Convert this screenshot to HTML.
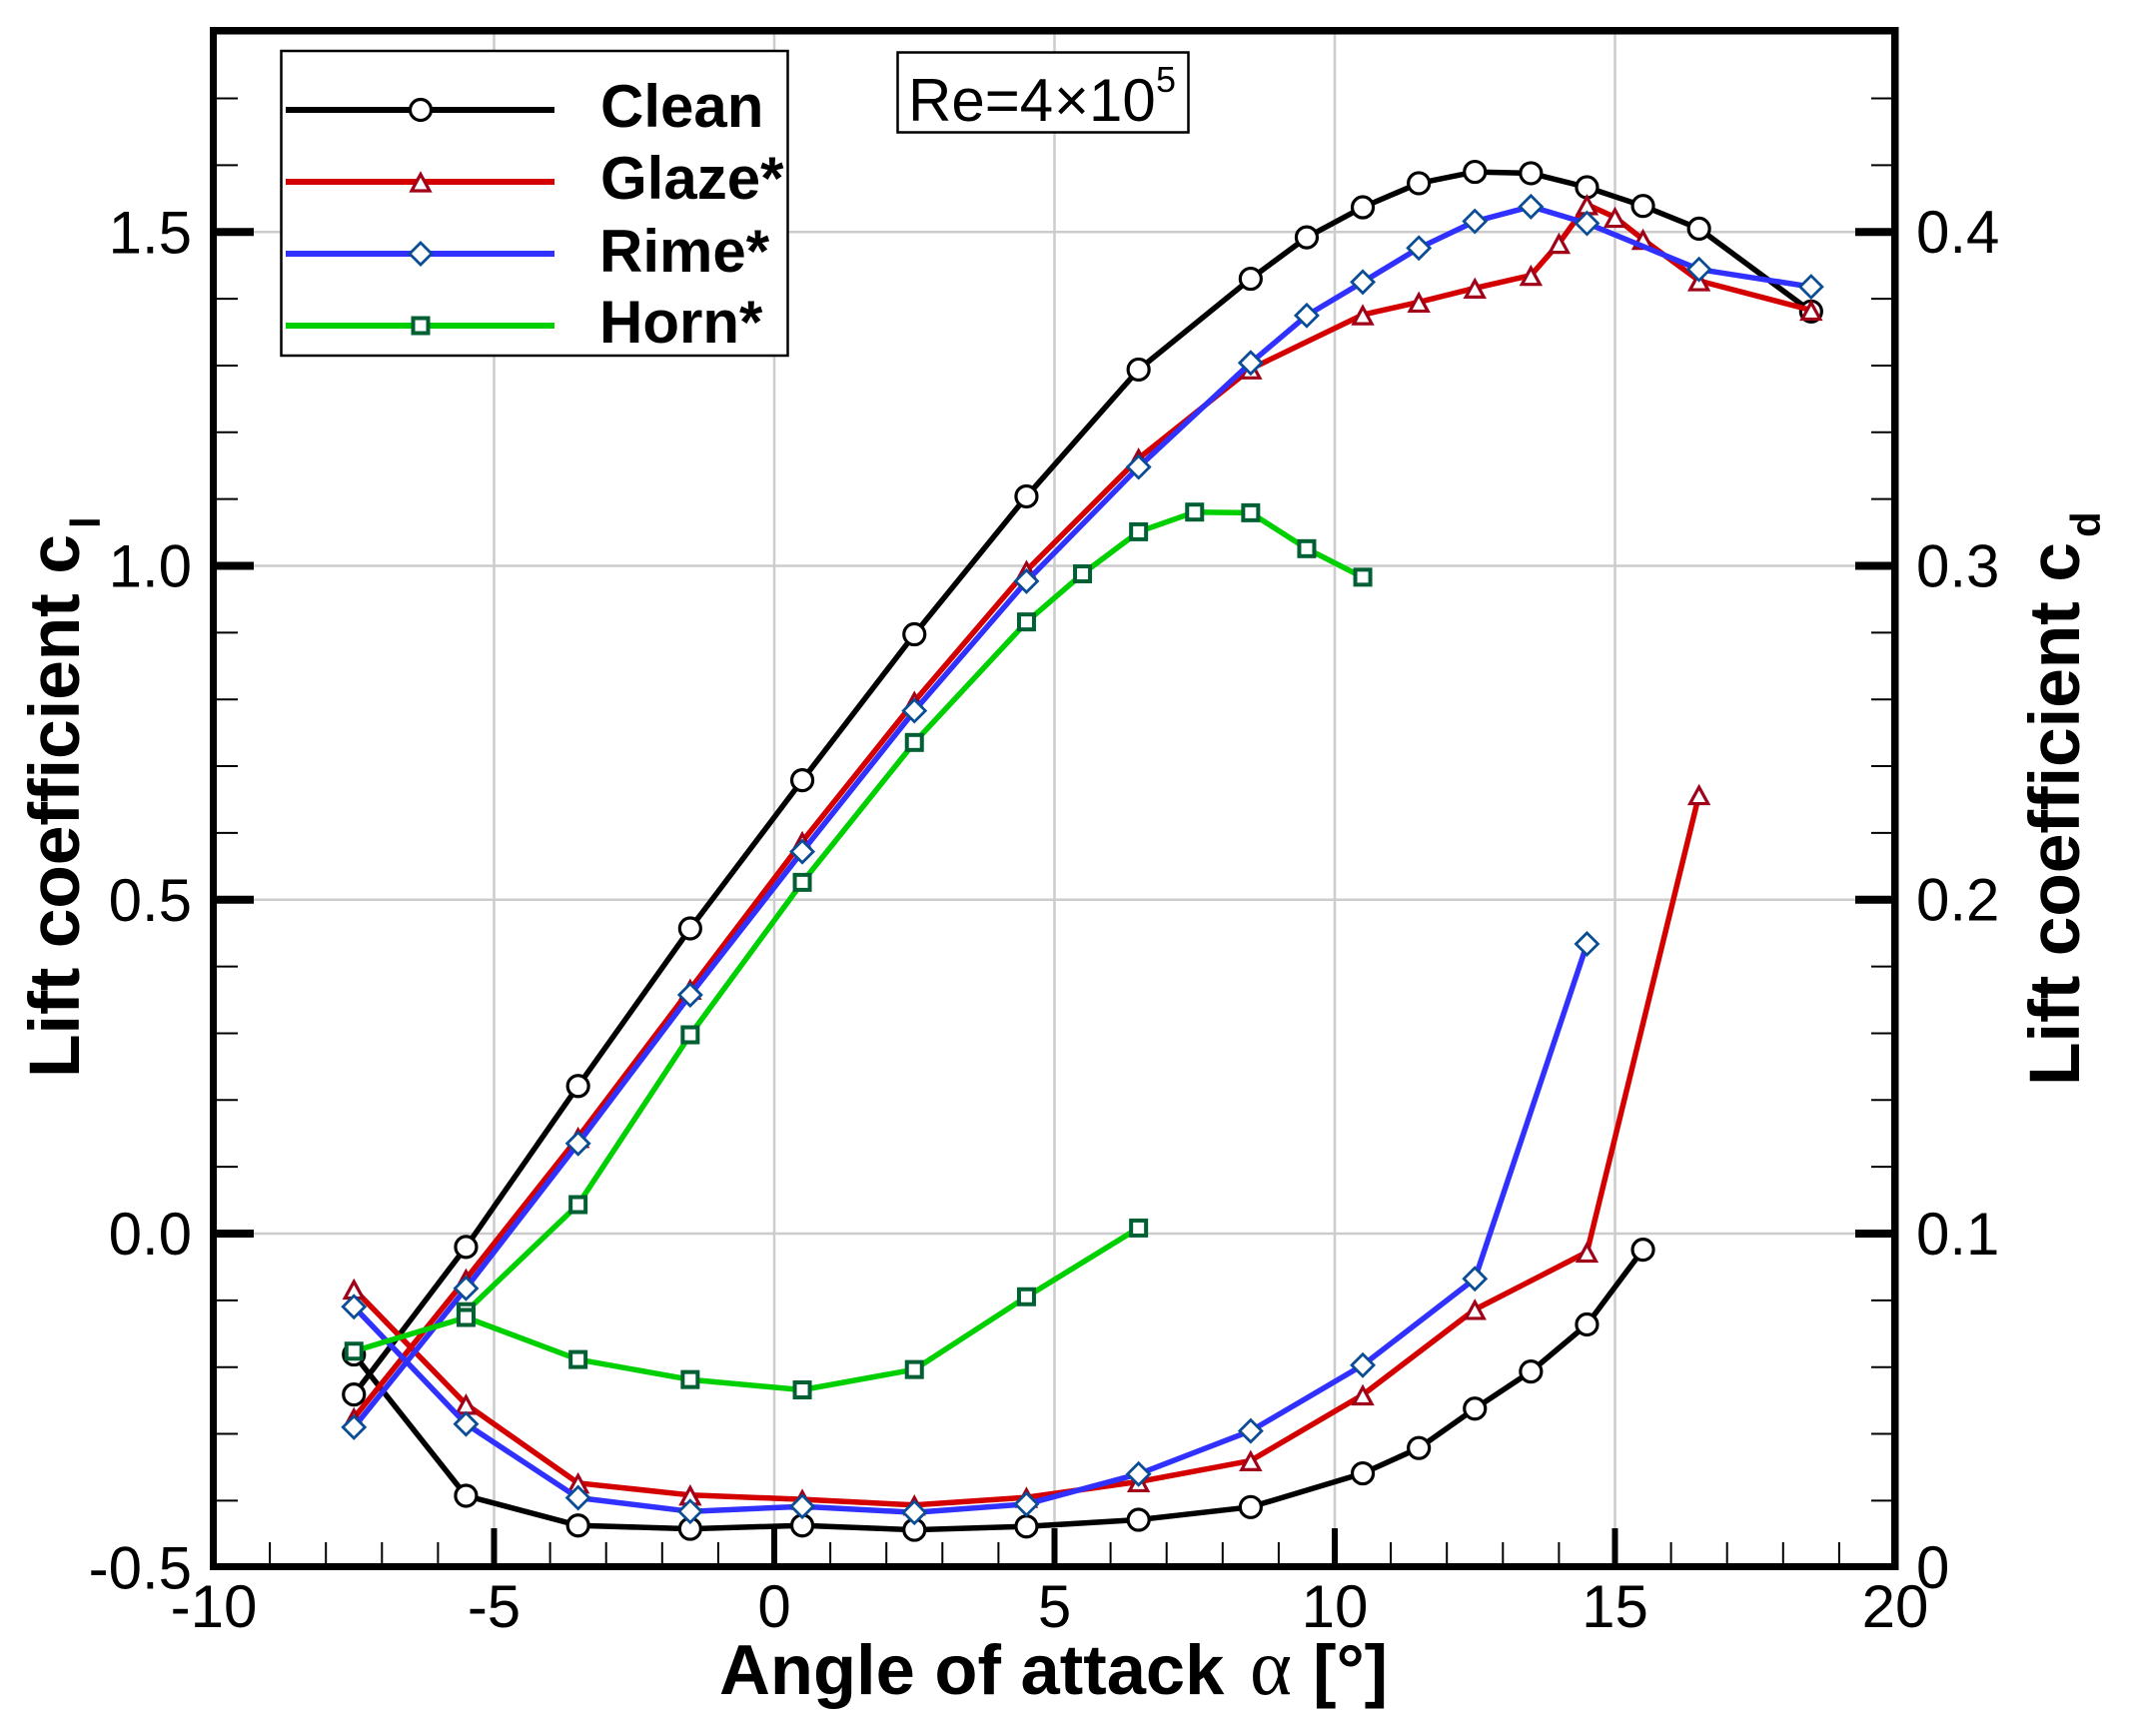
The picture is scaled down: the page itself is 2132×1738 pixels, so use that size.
<!DOCTYPE html>
<html lang="en">
<head>
<meta charset="utf-8">
<title>Lift and drag coefficient vs angle of attack</title>
<style>
  html, body { margin: 0; padding: 0; background: #fff; }
  svg { display: block; }
  text { font-family: "Liberation Sans", sans-serif; fill: #000; }
  .bold { font-weight: bold; }
</style>
</head>
<body>
<svg id="chart" xmlns="http://www.w3.org/2000/svg" width="2132" height="1738" viewBox="0 0 2132 1738">
  <rect x="0" y="0" width="2132" height="1738" fill="#fff"/>
  <g id="grid"></g>
  <g id="ticks"></g>
  <g id="series"></g>
  <g id="frame">
    <rect x="210" y="27" width="7" height="1545" fill="#000"/>
    <rect x="1893" y="27" width="7.5" height="1545" fill="#000"/>
    <rect x="210" y="27" width="1690" height="7.5" fill="#000"/>
    <rect x="210" y="1565" width="1690" height="7" fill="#000"/>
  </g>
  <g id="tick-labels" font-size="60"></g>

  <text class="bold" y="1696" font-size="70.5"><tspan x="720">Angle of attack</tspan><tspan x="1251" style="font-family:'Liberation Serif',serif;font-weight:normal" font-size="80">α</tspan><tspan x="1314">[°]</tspan></text>

  <g transform="translate(79 1079) rotate(-90)">
    <text class="bold" x="0" y="0" font-size="71.5" textLength="544" lengthAdjust="spacing">Lift coefficient c</text>
    <text class="bold" x="550" y="21" font-size="42">l</text>
  </g>
  <g transform="translate(2081 1087) rotate(-90)">
    <text class="bold" x="0" y="0" font-size="71.5" textLength="544" lengthAdjust="spacing">Lift coefficient c</text>
    <text class="bold" x="549" y="21" font-size="42">d</text>
  </g>

  <g>
    <rect x="281.5" y="51" width="507" height="305" fill="#fff" stroke="#000" stroke-width="2.5"/>
    <g>
      <line x1="286" x2="555" y1="110" y2="110" stroke="#000" stroke-width="6"/>
      <circle cx="421" cy="110" r="10.5" fill="#fff" stroke="#000" stroke-width="3.2"/>
      <text class="bold" x="601" y="127" font-size="60">Clean</text>
    </g>
    <g>
      <line x1="286" x2="555" y1="182" y2="182" stroke="#d40000" stroke-width="6"/>
      <path d="M421,174.500 L430,191 L412,191 Z" fill="#fff" stroke="#a00018" stroke-width="3.2"/>
      <text class="bold" x="601" y="199" font-size="60">Glaze*</text>
    </g>
    <g>
      <line x1="286" x2="555" y1="254" y2="254" stroke="#3030ff" stroke-width="6"/>
      <path d="M421,243 L432,254 L421,265 L410,254 Z" fill="#fff" stroke="#0a4d95" stroke-width="2.8"/>
      <text class="bold" x="600" y="272" font-size="60">Rime*</text>
    </g>
    <g>
      <line x1="286" x2="555" y1="326" y2="326" stroke="#00d000" stroke-width="6"/>
      <rect x="413.500" y="318.500" width="15" height="15" fill="#fff" stroke="#005f33" stroke-width="4"/>
      <text class="bold" x="600" y="343" font-size="60">Horn*</text>
    </g>
  </g>

  <g>
    <rect x="898.500" y="52.500" width="291" height="80" fill="#fff" stroke="#000" stroke-width="2.500"/>
    <text y="121" font-size="60"><tspan x="909">Re=4</tspan><tspan x="1055" font-size="60">×</tspan><tspan x="1090">10</tspan></text>
    <text x="1157" y="92" font-size="36">5</text>
  </g>
</svg>

<script>
// ---- chart data ----
const xTickLabels = ['-10', '-5', '0', '5', '10', '15', '20'];
const clTickLabels = ['-0.5', '0.0', '0.5', '1.0', '1.5'];
const cdTickLabels = ['0', '0.1', '0.2', '0.3', '0.4'];

const alphaCleanCl = [-7.5, -5.5, -3.5, -1.5, 0.5, 2.5, 4.5, 6.5, 8.5, 9.5, 10.5, 11.5, 12.5, 13.5, 14.5, 15.5, 16.5, 18.5];
const clClean = [-0.241, -0.020, 0.221, 0.457, 0.679, 0.8975, 1.104, 1.294, 1.430, 1.492, 1.537, 1.573, 1.590, 1.588, 1.567, 1.539, 1.505, 1.381];
const alphaCleanCd = [-7.5, -5.5, -3.5, -1.5, 0.5, 2.5, 4.5, 6.5, 8.5, 10.5, 11.5, 12.5, 13.5, 14.5, 15.5];
const cdClean = [0.0637, 0.0214, 0.0125, 0.0115, 0.0125, 0.0112, 0.0122, 0.0142, 0.0180, 0.0281, 0.0357, 0.0475, 0.0586, 0.0727, 0.0951];

const alphaGlazeCl = [-7.5, -5.5, -3.5, -1.5, 0.5, 2.5, 4.5, 6.5, 8.5, 10.5, 11.5, 12.5, 13.5, 14, 14.5, 15, 15.5, 16.5, 18.5];
const clGlaze = [-0.276, -0.068, 0.144, 0.366, 0.587, 0.797, 0.993, 1.161, 1.295, 1.376, 1.395, 1.416, 1.435, 1.483, 1.541, 1.522, 1.489, 1.427, 1.383];
const alphaGlazeCd = [-7.5, -5.5, -3.5, -1.5, 0.5, 2.5, 4.5, 6.5, 8.5, 10.5, 12.5, 14.5, 16.5];
const cdGlaze = [0.0833, 0.0488, 0.0252, 0.0216, 0.0203, 0.0186, 0.0209, 0.0256, 0.0319, 0.0516, 0.0772, 0.0944, 0.2314];

const alphaRimeCl = [-7.5, -5.5, -3.5, -1.5, 0.5, 2.5, 4.5, 6.5, 8.5, 9.5, 10.5, 11.5, 12.5, 13.5, 14.5, 16.5, 18.5];
const clRime = [-0.290, -0.082, 0.135, 0.3575, 0.572, 0.783, 0.977, 1.148, 1.304, 1.375, 1.425, 1.476, 1.516, 1.538, 1.513, 1.444, 1.418];
const alphaRimeCd = [-7.5, -5.5, -3.5, -1.5, 0.5, 2.5, 4.5, 6.5, 8.5, 10.5, 12.5, 14.5];
const cdRime = [0.0780, 0.0429, 0.0208, 0.0167, 0.0182, 0.0164, 0.0189, 0.0279, 0.0408, 0.0605, 0.0864, 0.1867];

const alphaHornCl = [-5.5, -3.5, -1.5, 0.5, 2.5, 4.5, 5.5, 6.5, 7.5, 8.5, 9.5, 10.5];
const clHorn = [-0.117, 0.0434, 0.2977, 0.526, 0.7355, 0.916, 0.988, 1.051, 1.0805, 1.0795, 1.0257, 0.983];
const alphaHornCd = [-7.5, -5.5, -3.5, -1.5, 0.5, 2.5, 4.5, 6.5];
const cdHorn = [0.0647, 0.0748, 0.0622, 0.0562, 0.0531, 0.0592, 0.0810, 0.1016];

// ---- axis functions ----
const NS = 'http://www.w3.org/2000/svg';
const xScale = a => 775 + (a * 1122 / 20);
const yCl = c => 1235 - c * 668.5;
const yCd = d => 1569 - d * 3342.5;

function make(tag, attrs, parent) {
  const el = document.createElementNS(NS, tag);
  for (const k in attrs) el.setAttribute(k, attrs[k]);
  parent.appendChild(el);
  return el;
}

const gridG = document.getElementById('grid');
const ticksG = document.getElementById('ticks');
const labelsG = document.getElementById('tick-labels');
const seriesG = document.getElementById('series');

// vertical grid + x ticks
for (let a = -9; a <= 19; a++) {
  const major = a % 5 === 0;
  if (major) {
    const g = make('line', { x1: xScale(a), x2: xScale(a), y1: 30, y2: 1568, stroke: '#cccccc', 'stroke-width': 2.5 }, gridG);
    
    
  }
  const t = make('line', { x1: xScale(a), x2: xScale(a), y1: 1566, y2: major ? 1530 : 1544, stroke: '#000', 'stroke-width': major ? 6 : 2 }, ticksG);
  
  
}

// horizontal grid + y ticks (every 0.1 of cl = 0.02 of cd)
for (let i = -4; i <= 17; i++) {
  const c = i / 10;
  const y = yCl(c);
  const major = i % 5 === 0;
  if (major) {
    const g = make('line', { x1: 214, x2: 1896, y1: y, y2: y, stroke: '#cccccc', 'stroke-width': 2.5 }, gridG);
    
    
  }
  const l = make('line', { x1: 216, x2: major ? 254 : 238, y1: y, y2: y, stroke: '#000', 'stroke-width': major ? 8 : 2 }, ticksG);
  
  
  const r = make('line', { x1: 1894, x2: major ? 1857 : 1873, y1: y, y2: y, stroke: '#000', 'stroke-width': major ? 8 : 2 }, ticksG);
  
  
}

// tick labels
xTickLabels.forEach(s => {
  const t = make('text', { x: xScale(parseFloat(s)), y: 1629, 'text-anchor': 'middle' }, labelsG);
  t.textContent = s;
  
  
});
clTickLabels.forEach(s => {
  const t = make('text', { x: 192, y: yCl(parseFloat(s)) + 21, 'text-anchor': 'end' }, labelsG);
  t.textContent = s;
  
  
});
cdTickLabels.forEach(s => {
  const t = make('text', { x: 1918, y: yCd(parseFloat(s)) + 21 }, labelsG);
  t.textContent = s;
  
  
});

// markers
function marker(kind, cx, cy, parent) {
  if (kind === 'circle') {
    return make('circle', { cx: cx, cy: cy, r: 10.5, fill: '#fff', stroke: '#000', 'stroke-width': 3.2 }, parent);
  }
  if (kind === 'triangle') {
    return make('path', { d: `M${cx},${cy - 7.5} L${cx + 9},${cy + 9} L${cx - 9},${cy + 9} Z`, fill: '#fff', stroke: '#a00018', 'stroke-width': 3.2 }, parent);
  }
  if (kind === 'diamond') {
    return make('path', { d: `M${cx},${cy - 11} L${cx + 11},${cy} L${cx},${cy + 11} L${cx - 11},${cy} Z`, fill: '#fff', stroke: '#0a4d95', 'stroke-width': 2.8 }, parent);
  }
  return make('rect', { x: cx - 7.5, y: cy - 7.5, width: 15, height: 15, fill: '#fff', stroke: '#005f33', 'stroke-width': 4 }, parent);
}

function drawCurve(xs, vals, yFn, color, kind) {
  const g = make('g', {}, seriesG);
  const pts = xs.map((a, i) => xScale(a).toFixed(1) + ',' + yFn(vals[i]).toFixed(1)).join(' ');
  const line = make('polyline', { points: pts, fill: 'none', stroke: color, 'stroke-width': 5.5, 'stroke-linejoin': 'round' }, g);
  
  
  xs.forEach((a, i) => {
    const m = marker(kind, xScale(a), yFn(vals[i]), g);
    
    
  });
  return g;
}

const cleanCl = drawCurve(alphaCleanCl, clClean, yCl, '#000', 'circle');


const cleanCd = drawCurve(alphaCleanCd, cdClean, yCd, '#000', 'circle');


const glazeCl = drawCurve(alphaGlazeCl, clGlaze, yCl, '#d40000', 'triangle');


const glazeCd = drawCurve(alphaGlazeCd, cdGlaze, yCd, '#d40000', 'triangle');


const rimeCl = drawCurve(alphaRimeCl, clRime, yCl, '#3030ff', 'diamond');


const rimeCd = drawCurve(alphaRimeCd, cdRime, yCd, '#3030ff', 'diamond');


const hornCl = drawCurve(alphaHornCl, clHorn, yCl, '#00d000', 'square');


const hornCd = drawCurve(alphaHornCd, cdHorn, yCd, '#00d000', 'square');


</script>
</body>
</html>
